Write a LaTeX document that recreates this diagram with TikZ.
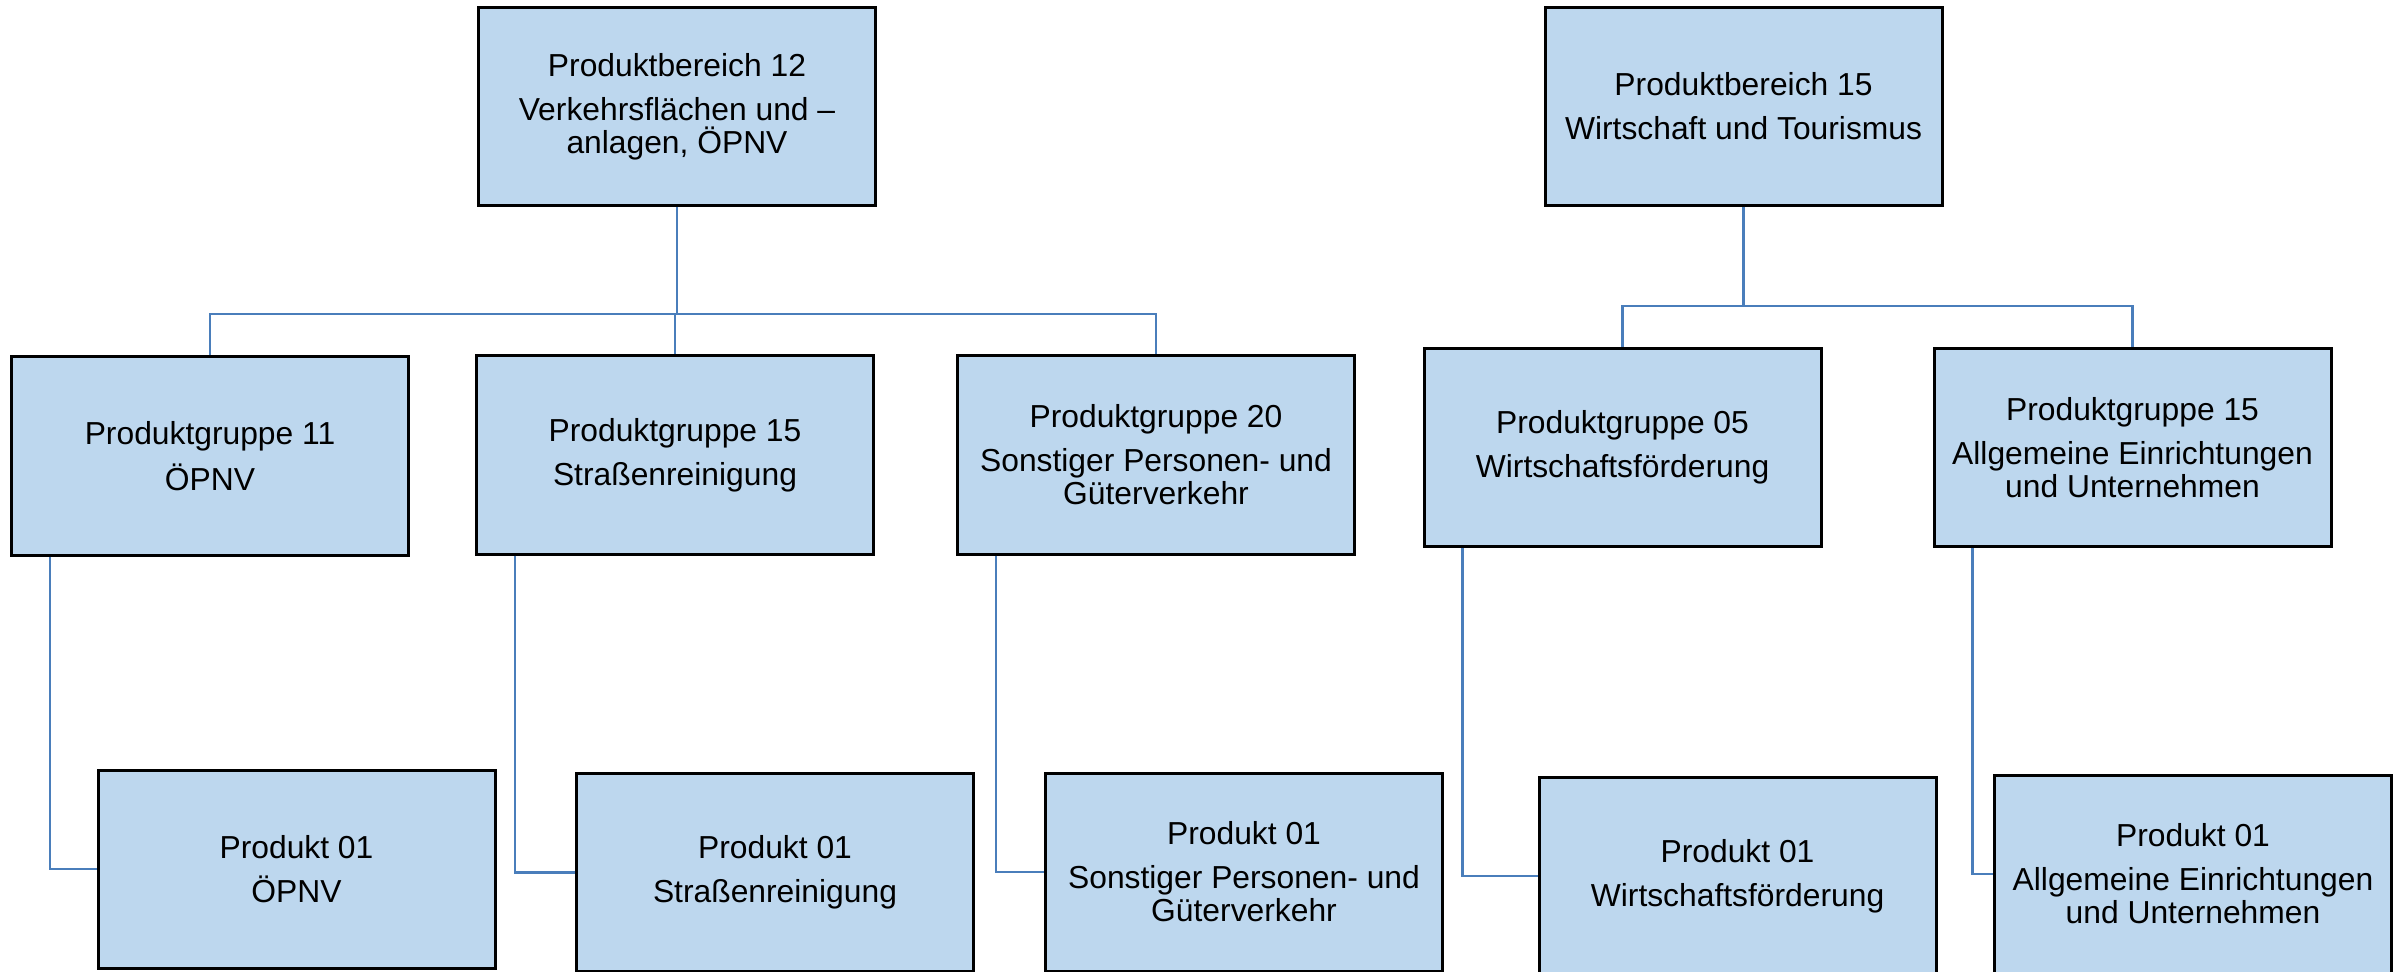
\documentclass[tikz,border=0pt]{standalone}
\usepackage{fontspec}
\setmainfont{Liberation Sans}
\definecolor{boxfill}{HTML}{BDD7EE}
\definecolor{conn}{HTML}{4A7EBB}
\begin{document}
\begin{tikzpicture}[x=0.5pt,y=-0.5pt,
  box/.style={draw=black, line width=1.5pt, fill=boxfill, minimum width=198.5pt,
    minimum height=99pt, inner sep=0pt, align=center,
    font=\fontsize{15.9}{16.5}\selectfont},
  link/.style={draw=conn, line width=1.2pt}]
\useasboundingbox (0,0) rectangle (2407,972);
% top level
\node[box] (pb12) at (677,106.5) {Produktbereich 12\\[5.5pt]Verkehrsflächen und –\\anlagen, ÖPNV};
\node[box] (pb15) at (1743.5,106.5) {Produktbereich 15\\[5.5pt]Wirtschaft und Tourismus};
% groups
\node[box] (pg11) at (210,456) {Produktgruppe 11\\[5.5pt]ÖPNV};
\node[box] (pg15) at (675,455) {Produktgruppe 15\\[5.5pt]Straßenreinigung};
\node[box] (pg20) at (1156,455) {Produktgruppe 20\\[5.5pt]Sonstiger Personen- und\\Güterverkehr};
\node[box] (pg05) at (1622.5,447.5) {Produktgruppe 05\\[5.5pt]Wirtschaftsförderung};
\node[box] (pg15r) at (2132.5,447.5) {Produktgruppe 15\\[5.5pt]Allgemeine Einrichtungen\\und Unternehmen};
% products
\node[box] (p11) at (296.5,869) {Produkt 01\\[5.5pt]ÖPNV};
\node[box] (p15) at (775,872.5) {Produkt 01\\[5.5pt]Straßenreinigung};
\node[box] (p20) at (1244,872) {Produkt 01\\[5.5pt]Sonstiger Personen- und\\Güterverkehr};
\node[box] (p05) at (1737.5,876) {Produkt 01\\[5.5pt]Wirtschaftsförderung};
\node[box] (p15r) at (2193,874) {Produkt 01\\[5.5pt]Allgemeine Einrichtungen\\und Unternehmen};
% buses
\coordinate (bus12) at (677,314);
\coordinate (bus15) at (1743.5,306);
\draw[link] (pb12.south) -- (bus12);
\draw[link] (bus12) -| (pg11.north);
\draw[link] (bus12) -| (pg15.north);
\draw[link] (bus12) -| (pg20.north);
\draw[link] (pb15.south) -- (bus15);
\draw[link] (bus15) -| (pg05.north);
\draw[link] (bus15) -| (pg15r.north);
\draw[link] ([xshift=20pt]pg11.south west) |- (p11.west);
\draw[link] ([xshift=20pt]pg15.south west) |- (p15.west);
\draw[link] ([xshift=20pt]pg20.south west) |- (p20.west);
\draw[link] ([xshift=20pt]pg05.south west) |- (p05.west);
\draw[link] ([xshift=20pt]pg15r.south west) |- (p15r.west);
\end{tikzpicture}
\end{document}
